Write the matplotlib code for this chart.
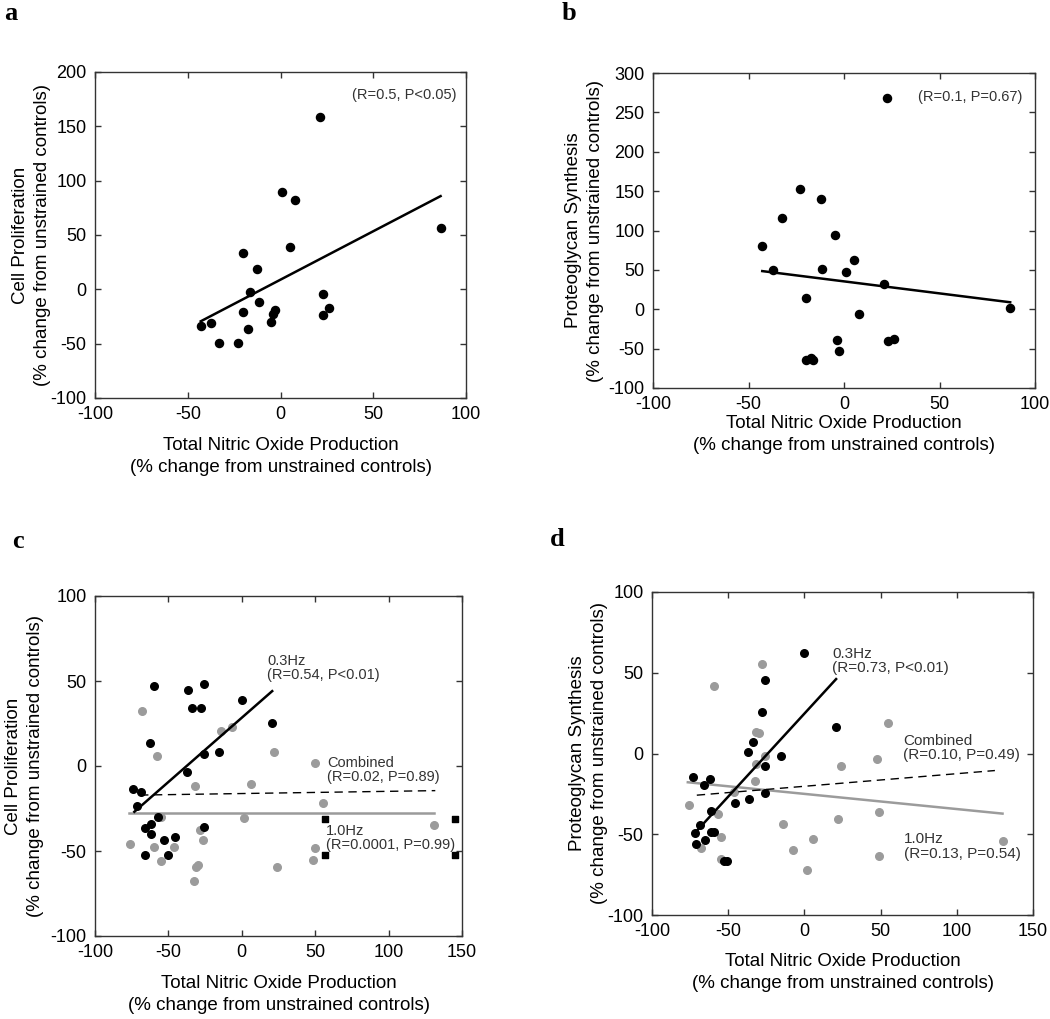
import numpy as np
import matplotlib
matplotlib.use("Agg")
import matplotlib.pyplot as plt

plt.rcParams['font.family'] = ['Liberation Sans', 'DejaVu Sans']
plt.rcParams['axes.unicode_minus'] = False

# ---- panel a : NO vs cell proliferation
a_x = [21.1, 1.0, 7.6, 86.3, 4.9, -20.2, -12.5, -16.4, -11.4, 22.7, 26.1,
       22.7, -20.2, -2.8, -3.9, -5.1, -17.5, -43.0, -37.5, -33.0, -23.1]
a_y = [158.2, 89.4, 82.4, 56.6, 39.4, 33.5, 18.5, -2.4, -11.3, -4.5, -17.4,
       -23.3, -21.1, -19.3, -22.3, -30.0, -36.2, -33.4, -31.2, -49.1, -49.1]
fit_a_coef = [0.891, 8.9]
fit_a_range = [-43, 86.3]

# ---- panel b : NO vs proteoglycan synthesis
b_x = [22.6, -22.8, -12.2, -32.7, -4.9, -42.8, 5.0, -37.2, -11.3, 1.0, 21.0,
       -20.0, 7.7, -3.8, 22.8, 26.1, -2.8, -20.0, -17.5, -16.0, 87.0]
b_y = [267.9, 152.3, 140.5, 116.4, 93.7, 80.6, 62.0, 50.2, 51.5, 47.3, 32.1,
       14.3, -5.9, -38.8, -40.5, -37.5, -53.2, -64.0, -62.0, -64.0, 2.0]
fit_b_coef = [-0.305, 35.4]
fit_b_range = [-42.8, 87.0]

# ---- panel c : 0.3Hz (black) / 1.0Hz (grey)
c_03_x = [-59.5, -36.6, -25.9, -33.6, -28.0, 0.0, 20.7, -62.5, -25.9, -15.7,
          -37.3, -73.9, -68.6, -71.4, -56.8, -65.9, -61.6, -61.8, -53.2,
          -45.5, -65.7, -50.5, -25.5]
c_03_y = [47.0, 44.5, 48.2, 34.3, 34.3, 39.0, 25.1, 13.3, 7.3, 8.2, -3.7,
          -13.7, -15.5, -23.7, -30.0, -36.5, -34.3, -40.2, -43.5, -41.6,
          -52.1, -52.1, -36.1]
c_sq_x = [57.0, 57.0, 145.5, 145.5]
c_sq_y = [-31.4, -52.5, -31.4, -52.5]
c_10_x = [-68.2, -57.5, -14.1, -7.0, 21.8, 49.6, 6.1, -31.6, 55.0, -54.8, 1.8,
          -28.4, -26.1, -76.4, -59.5, -46.1, -54.8, -31.4, -29.5, -32.3, 24.3,
          49.6, 48.2, 130.7]
c_10_y = [32.3, 5.9, 20.6, 22.7, 8.0, 1.6, -10.4, -11.8, -21.6, -30.0, -30.4,
          -37.6, -43.5, -45.7, -47.6, -47.6, -56.1, -59.4, -58.4, -67.6, -59.4,
          -48.2, -55.5, -34.5]
fit_c03_coef = [0.756, 28.4]
fit_c03_range = [-73.2, 20.7]
fit_call_coef = [0.013, -16.2]
fit_call_range = [-69.3, 131.8]
fit_c10_coef = [0.0, -27.6]
fit_c10_range = [-76.8, 131.0]

# ---- panel d
d_03_x = [0.0, -25.8, -28.0, 20.8, -33.4, -37.2, -15.5, -25.8, -73.2, -62.1,
          -65.8, -26.0, -36.3, -45.3, -61.4, -68.2, -71.5, -61.4, -59.0,
          -65.4, -71.3, -50.5, -52.5]
d_03_y = [62.0, 45.5, 25.4, 16.7, 7.0, 1.0, -1.7, -7.6, -14.3, -15.7, -19.6,
          -24.2, -28.3, -30.4, -35.3, -44.0, -49.4, -48.8, -48.8, -53.3,
          -56.2, -66.3, -66.3]
d_10_x = [-28.0, -59.0, 54.7, -31.7, -29.5, -25.8, 47.7, 24.0, -31.7, -32.4,
          -45.9, -75.9, -56.8, 22.1, 49.2, -14.2, -54.4, 5.9, -67.8, -7.2,
          -54.4, 49.2, 2.0, 130.0]
d_10_y = [55.6, 42.1, 18.8, 13.6, 12.6, -1.4, -3.1, -7.6, -6.4, -16.9, -23.6,
          -31.6, -37.6, -40.3, -36.2, -43.8, -51.4, -52.9, -58.3, -59.5,
          -65.5, -63.4, -72.3, -54.1]
fit_d03_coef = [1.028, 24.7]
fit_d03_range = [-70.6, 20.8]
fit_dall_coef = [0.078, -20.3]
fit_dall_range = [-70.6, 125.0]
fit_d10_coef = [-0.094, -25.0]
fit_d10_range = [-76.5, 130.0]

W, H = 1050, 1019
GREY = '#9b9b9b'
xlab = 'Total Nitric Oxide Production\n(% change from unstrained controls)'


def make_axes(fig, l, r, t, b):
    ax = fig.add_axes([l / W, 1 - b / H, (r - l) / W, (b - t) / H])
    for s in ax.spines.values():
        s.set_color('#333333')
        s.set_linewidth(1.0)
    ax.tick_params(direction='in', length=4.5, width=1.0, color='#333333',
                   top=True, right=True, labelsize=13, pad=6)
    return ax


def fit_line(ax, coef, rng, **kw):
    xx = np.array(rng)
    ax.plot(xx, coef[0] * xx + coef[1], **kw)


def labels(ax, ylab, ylx, xly):
    ax.set_ylabel(ylab, fontsize=13.5, linespacing=1.4)
    ax.set_xlabel(xlab, fontsize=13.5, linespacing=1.4)
    ax.yaxis.set_label_coords(ylx, 0.5)
    ax.xaxis.set_label_coords(0.5, xly)


fig = plt.figure(figsize=(W / 100, H / 100), dpi=100)

ann = dict(fontsize=10.5, color='#333333', linespacing=1.05)

# a
ax = make_axes(fig, 95, 466, 72, 398)
ax.scatter(a_x, a_y, s=34, c='black', zorder=3)
fit_line(ax, fit_a_coef, fit_a_range, color='black', lw=1.8)
ax.set_xlim(-100, 100)
ax.set_ylim(-100, 200)
ax.set_xticks(np.arange(-100, 101, 50))
ax.set_yticks(np.arange(-100, 201, 50))
labels(ax, 'Cell Proliferation\n(% change from unstrained controls)', -0.118, -0.12)
ax.text(95, 185, '(R=0.5, P<0.05)', ha='right', va='top', **ann)

# b
ax = make_axes(fig, 653, 1035, 73, 388)
ax.scatter(b_x, b_y, s=34, c='black', zorder=3)
fit_line(ax, fit_b_coef, fit_b_range, color='black', lw=1.8)
ax.set_xlim(-100, 100)
ax.set_ylim(-100, 300)
ax.set_xticks(np.arange(-100, 101, 50))
ax.set_yticks(np.arange(-100, 301, 50))
labels(ax, 'Proteoglycan Synthesis\n(% change from unstrained controls)', -0.128, -0.086)
ax.text(39, 279, '(R=0.1, P=0.67)', ha='left', va='top', **ann)

# c
ax = make_axes(fig, 95, 462, 596, 936)
ax.scatter(c_10_x, c_10_y, s=30, c=GREY, zorder=2)
ax.scatter(c_03_x, c_03_y, s=30, c='black', zorder=3)
ax.scatter(c_sq_x, c_sq_y, s=22, c='black', marker='s', zorder=3)
fit_line(ax, fit_c10_coef, fit_c10_range, color=GREY, lw=1.8)
fit_line(ax, fit_call_coef, fit_call_range, color='black', lw=1.0, dashes=(6, 4))
fit_line(ax, fit_c03_coef, fit_c03_range, color='black', lw=1.8)
ax.set_xlim(-100, 150)
ax.set_ylim(-100, 100)
ax.set_xticks(np.arange(-100, 151, 50))
ax.set_yticks(np.arange(-100, 101, 50))
labels(ax, 'Cell Proliferation\n(% change from unstrained controls)', -0.138, -0.114)
ax.text(17.2, 66, '0.3Hz\n(R=0.54, P<0.01)', ha='left', va='top', **ann)
ax.text(58, 6, 'Combined\n(R=0.02, P=0.89)', ha='left', va='top', **ann)
ax.text(57.4, -34, '1.0Hz\n(R=0.0001, P=0.99)', ha='left', va='top', **ann)

# d
ax = make_axes(fig, 652, 1033, 592, 915)
ax.scatter(d_10_x, d_10_y, s=30, c=GREY, zorder=2)
ax.scatter(d_03_x, d_03_y, s=30, c='black', zorder=3)
fit_line(ax, fit_d10_coef, fit_d10_range, color=GREY, lw=1.8)
fit_line(ax, fit_dall_coef, fit_dall_range, color='black', lw=1.0, dashes=(6, 4))
fit_line(ax, fit_d03_coef, fit_d03_range, color='black', lw=1.8)
ax.set_xlim(-100, 150)
ax.set_ylim(-100, 100)
ax.set_xticks(np.arange(-100, 151, 50))
ax.set_yticks(np.arange(-100, 101, 50))
labels(ax, 'Proteoglycan Synthesis\n(% change from unstrained controls)', -0.115, -0.118)
ann_d = dict(ann, fontsize=11)
ax.text(18.2, 66, '0.3Hz\n(R=0.73, P<0.01)', ha='left', va='top', **ann_d)
ax.text(64.8, 12.3, 'Combined\n(R=0.10, P=0.49)', ha='left', va='top', **ann_d)
ax.text(65.2, -48.6, '1.0Hz\n(R=0.13, P=0.54)', ha='left', va='top', **ann_d)

# panel letters
for lab, px, py in [('a', 4, 20), ('b', 562, 20), ('c', 12, 548), ('d', 550, 546)]:
    fig.text(px / W, 1 - py / H, lab, fontsize=19, fontweight='bold',
             family='Liberation Serif', va='baseline', ha='left')

fig.savefig('out.png', dpi=100)
